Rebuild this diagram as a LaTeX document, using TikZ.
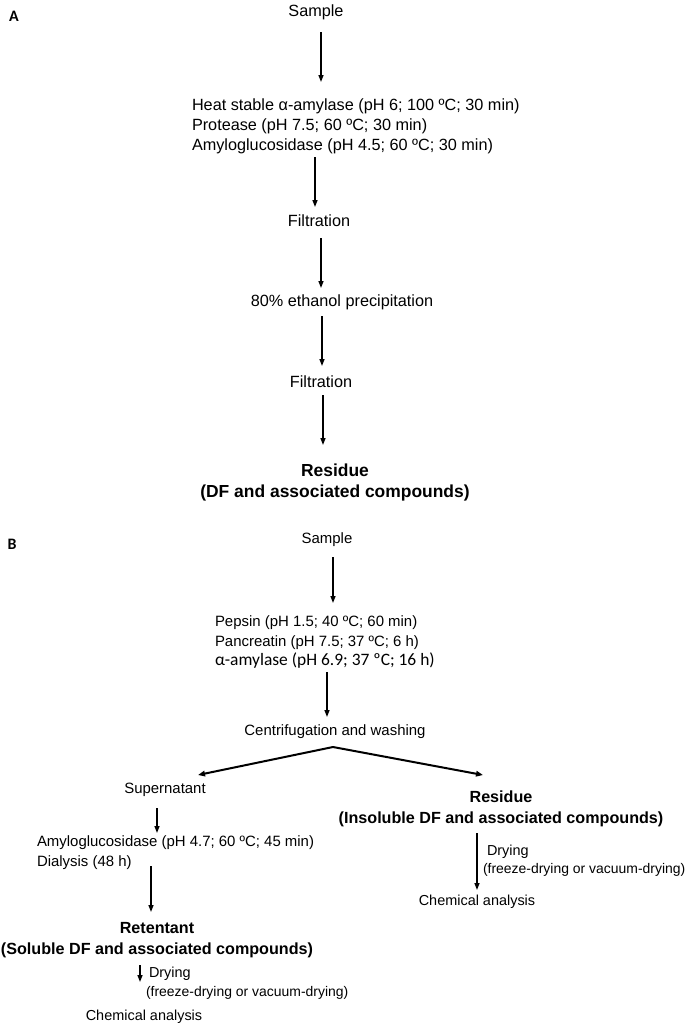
\documentclass[tikz,border=0pt]{standalone}
\usepackage{fontspec}
\setmainfont{Liberation Sans}
\newfontfamily\calib{Carlito}
\usetikzlibrary{arrows.meta,calc}
\begin{document}
\begin{tikzpicture}[x=1bp,y=-1bp,
  every node/.style={inner sep=0pt, outer sep=0pt},
  panel/.style={font=\calib\bfseries\fontsize{16}{18}\selectfont},
  tA/.style={font=\fontsize{16.3}{20}\selectfont},
  tAb/.style={font=\bfseries\fontsize{17.5}{21}\selectfont, align=center},
  tB/.style={font=\fontsize{15}{19.5}\selectfont},
  tBb/.style={font=\bfseries\fontsize{16.2}{20.5}\selectfont, align=center},
  tS/.style={font=\fontsize{14.5}{17}\selectfont},
  tXS/.style={font=\fontsize{14}{17}\selectfont},
  arr/.style={line width=1.5bp, -{Triangle[length=7bp,width=5bp]}},
  arrw/.style={line width=2bp, -{Triangle[length=7bp,width=5.5bp]}}]
\useasboundingbox (0,0) rectangle (689,1026);
\fill[white] (0,0) rectangle (689,1026);

% ---------- Panel A ----------
\node[panel] (lblA) at (14,16) {A};
\node[tA] (sampleA) at (316,12) {Sample};
\node[tA, anchor=west, align=left] (enzA) at (192,126)
  {Heat stable α-amylase (pH 6; 100 ºC; 30 min)\\
   Protease (pH 7.5; 60 ºC; 30 min)\\
   Amyloglucosidase (pH 4.5; 60 ºC; 30 min)};
\node[tA] (filt1) at (319,221) {Filtration};
\node[tA] (eth) at (342,302) {80\% ethanol precipitation};
\node[tA] (filt2) at (321,382) {Filtration};
\node[tAb] (resA) at (335,482.5) {Residue\\(DF and associated compounds)};

\draw[arr] ($(sampleA.center)+(5,20)$) -- ($(enzA.west)+(129,-44)$);
\draw[arr] ($(enzA.west)+(123,31)$) -- ($(filt1.center)+(-4,-14)$);
\draw[arr] ($(filt1.center)+(2,17)$) -- ($(eth.center)+(-21,-14)$);
\draw[arr] ($(eth.center)+(-20,14)$) -- ($(filt2.center)+(1,-16)$);
\draw[arr] ($(filt2.center)+(2,13)$) -- ($(resA.center)+(-12,-37.5)$);

% ---------- Panel B ----------
\node[panel] (lblB) at (12,544) {B};
\node[tB] (sampleB) at (327,540) {Sample};
\node[tB, anchor=west, align=left] (enzB) at (215,642)
  {Pepsin (pH 1.5; 40 ºC; 60 min)\\
   Pancreatin (pH 7.5; 37 ºC; 6 h)\\
   {\calib\fontsize{17.5}{19.5}\selectfont α-amylase (pH 6.9; 37 ºC; 16 h)}};
\node[tB] (centr) at (335,732) {Centrifugation and washing};
\coordinate (apex) at ($(centr.center)+(-2,15)$);
\node[tB] (super) at (165,790) {Supernatant};
\node[tBb] (resR) at (501,809) {Residue\\(Insoluble DF and associated compounds)};
\node[tB, anchor=west, align=left] (enzB2) at (37,852.5)
  {Amyloglucosidase (pH 4.7; 60 ºC; 45 min)\\
   Dialysis (48 h)};
\node[tBb] (retent) at (157,940) {Retentant\\(Soluble DF and associated compounds)};
\node[tS, anchor=west] (dryA) at (149,974) {Drying};
\node[tXS, anchor=west] (frzA) at (146,993) {(freeze-drying or vacuum-drying)};
\node[tS] (chem1) at (144,1017) {Chemical analysis};
\node[tS, anchor=west] (dryB) at (487,852) {Drying};
\node[tXS, anchor=west] (frzB) at (483,870) {(freeze-drying or vacuum-drying)};
\node[tS] (chem2) at (477,902) {Chemical analysis};

\draw[arr] ($(sampleB.center)+(6,17)$) -- ($(enzB.west)+(118,-39)$);
\draw[arr] ($(enzB.west)+(112,30)$) -- ($(centr.center)+(-8,-15)$);
\draw[arrw] (apex) -- ($(super.center)+(33,-15)$);
\draw[arrw] (apex) -- ($(resR.center)+(-18,-34)$);
\draw[arr] ($(super.center)+(-8,18)$) -- ($(enzB2.west)+(120,-19.5)$);
\draw[arr] ($(enzB2.west)+(114,13.5)$) -- ($(retent.center)+(-6,-28)$);
\draw[arr] ($(retent.center)+(-17,25)$) -- ($(chem1.center)+(-4,-35)$);
\draw[arr] ($(resR.center)+(-24,24)$) -- ($(chem2.center)+(0,-12)$);
\end{tikzpicture}
\end{document}
